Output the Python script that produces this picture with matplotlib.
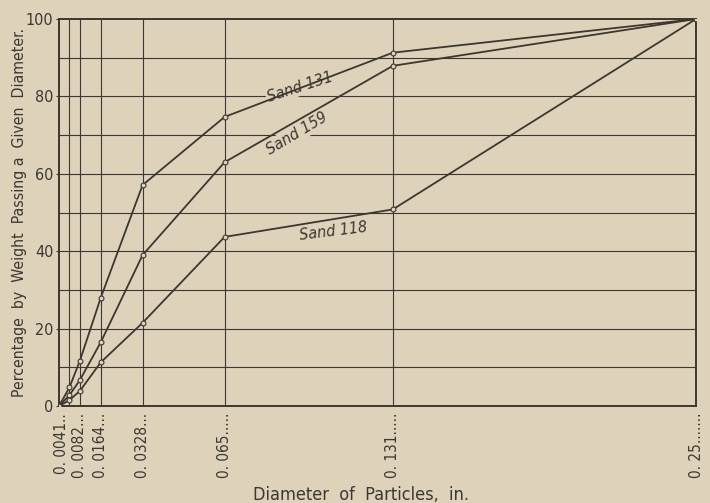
import matplotlib.pyplot as plt
from matplotlib.transforms import ScaledTranslation

# diameter of particles (in.) and percent passing for each sand
diam = [0, 0.0041, 0.0082, 0.0164, 0.0328, 0.065, 0.131, 0.25]
sand131 = [0, 4.8, 11.7, 28.0, 57.1, 74.7, 91.3, 100]
sand159 = [0, 2.8, 6.7, 16.5, 39.0, 63.0, 87.9, 100]
sand118 = [0, 1.5, 3.9, 11.3, 21.5, 43.7, 50.8, 100]

tick_vals = [0.0041, 0.0082, 0.0164, 0.0328, 0.065, 0.131, 0.25]
tick_labels = ["0. 0041..", "0. 0082...", "0. 0164...", "0. 0328...",
               "0. 065.....", "0. 131.....", "0. 25......."]

bg = "#dfd2bb"
ink = "#3d3731"

plt.rcParams["font.stretch"] = "condensed"

fig = plt.figure(figsize=(7.1, 5.03), dpi=100, facecolor=bg)
ax = fig.add_axes([0.0831, 0.1928, 0.8972, 0.7694], facecolor=bg)

# grid: horizontal every 10 %, vertical at the sieve sizes
for y in range(10, 100, 10):
    ax.axhline(y, color=ink, lw=0.8, zorder=1)
for x in tick_vals[:-1]:
    ax.axvline(x, color=ink, lw=0.8, zorder=1)

for s in [sand131, sand159, sand118]:
    ax.plot(diam, s, color=ink, lw=1.3, marker="o", ms=3.5, mfc=bg,
            mec=ink, mew=0.8, zorder=4)

box = dict(facecolor=bg, edgecolor="none", pad=1)
ax.text(0.0946, 82.5, "Sand 131", rotation=18, style="italic", fontsize=11.5,
        color=ink, ha="center", va="center", bbox=box, zorder=3)
ax.text(0.0934, 70.5, "Sand 159", rotation=31, style="italic", fontsize=11.5,
        color=ink, ha="center", va="center", bbox=box, zorder=3)
ax.text(0.1075, 45, "Sand 118", rotation=7, style="italic", fontsize=11.5,
        color=ink, ha="center", va="center", bbox=box, zorder=3)

ax.set_xlim(0, 0.25)
ax.set_ylim(0, 100)
ax.set_xticks(tick_vals)
ax.set_xticklabels(tick_labels, rotation=90, fontsize=11, color=ink)
ax.set_yticks(range(0, 101, 20))
ax.tick_params(axis="x", length=0, pad=5)
ax.tick_params(axis="y", length=2, pad=2, color=ink, labelsize=11.5,
               labelcolor=ink)
for sp in ax.spines.values():
    sp.set_color(ink)
    sp.set_linewidth(1.4)

# first label sits left of its line, as in the original
lab = ax.xaxis.get_major_ticks()[0].label1
lab.set_transform(lab.get_transform() +
                  ScaledTranslation(-6 / 72, 0, fig.dpi_scale_trans))

ax.set_ylabel("Percentage  by  Weight  Passing a  Given  Diameter.",
              fontsize=11.3, color=ink, labelpad=-1)
fig.text(0.509, 0.006, "Diameter  of  Particles,  in.", fontsize=13,
         color=ink, ha="center")

fig.savefig("out.png", dpi=100, facecolor=bg)
